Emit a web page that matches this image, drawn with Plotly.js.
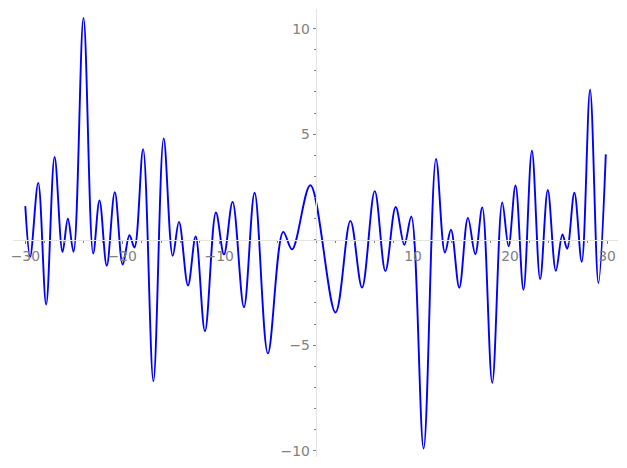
<!DOCTYPE html>
<html>
<head>
<meta charset="utf-8">
<script src="https://cdn.plot.ly/plotly-3.0.1.min.js"></script>
<style>html,body{margin:0;padding:0;background:#fff;}#plot{width:627px;height:468px;}</style>
</head>
<body>
<div id="plot"></div>
<script>
// Curve samples (extrema and end points)
const xVals = [-30.0, -29.5, -28.67, -27.85, -26.98, -26.16, -25.61, -25.03, -24.0, -23.0,
  -22.35, -21.6, -20.77, -19.95, -19.26, -18.74, -17.85, -16.79, -15.73, -14.80,
  -14.15, -13.22, -12.43, -11.47, -10.34, -9.51, -8.62, -7.45, -6.35, -4.98,
  -3.40, -2.49, -0.60, 1.99, 3.53, 4.73, 6.04, 7.14, 8.20, 9.09,
  9.81, 11.08, 12.36, 13.28, 13.90, 14.76, 15.65, 16.41, 17.13, 18.16,
  19.19, 19.84, 20.56, 21.38, 22.25, 23.10, 23.89, 24.72, 25.40, 25.88,
  26.63, 27.39, 28.25, 29.11, 29.87];
const yVals = [1.59, -0.81, 2.69, -3.07, 3.92, -0.58, 0.99, -0.58, 10.51, -0.66,
  1.86, -1.24, 2.25, -1.18, 0.21, -0.37, 4.29, -6.71, 4.80, -0.77,
  0.84, -2.17, 0.15, -4.34, 1.29, -0.70, 1.79, -3.20, 2.22, -5.39,
  0.37, -0.46, 2.58, -3.45, 0.89, -2.27, 2.30, -1.49, 1.55, -0.24,
  1.10, -9.90, 3.83, -0.61, 0.47, -2.28, 1.03, -0.69, 1.53, -6.79,
  1.76, -0.31, 2.57, -2.38, 4.21, -1.87, 2.35, -1.48, 0.25, -0.43,
  2.22, -1.05, 7.10, -2.06, 4.04];
const xTicks = [-30, -20, -10, 10, 20, 30];
const yTicks = [-10, -5, 5, 10];

const xRange = [-31.27, 31.13];
const yRange = [-10.30, 10.93];
const grey = '#808080';
const spine = '#e3e3e3';
const tickFont = {family: 'DejaVu Sans', size: 13.9, color: grey};

const trace = {
  x: xVals, y: yVals, type: 'scatter', mode: 'lines',
  line: {color: '#0000ff', width: 1.9, shape: 'spline', smoothing: 1},
  hoverinfo: 'skip'
};

const layout = {
  width: 627, height: 468,
  margin: {l: 13, r: 9, t: 9, b: 11, pad: 0},
  paper_bgcolor: '#ffffff', plot_bgcolor: '#ffffff',
  showlegend: false,
  xaxis: {
    range: xRange, anchor: 'free',
    position: (0 - yRange[0]) / (yRange[1] - yRange[0]),
    showgrid: false, zeroline: false,
    showline: true, linecolor: spine, linewidth: 1.2,
    tickmode: 'array', tickvals: xTicks, ticktext: xTicks.map(v => v < 0 ? '\u2212' + Math.abs(v) : String(v)),
    ticks: 'outside', ticklen: 3.5, tickwidth: 1, tickcolor: grey,
    tickfont: tickFont,
    minor: {tickmode: 'linear', tick0: 0, dtick: 2, ticks: 'outside', ticklen: 2, tickwidth: 1, tickcolor: grey, showgrid: false}
  },
  yaxis: {
    range: yRange, anchor: 'free',
    position: (0 - xRange[0]) / (xRange[1] - xRange[0]),
    showgrid: false, zeroline: false,
    showline: true, linecolor: spine, linewidth: 1.2,
    tickmode: 'array', tickvals: yTicks, ticktext: yTicks.map(v => v < 0 ? '\u2212' + Math.abs(v) : String(v)),
    ticks: 'outside', ticklen: 3.5, tickwidth: 1, tickcolor: grey,
    tickfont: tickFont,
    minor: {tickmode: 'linear', tick0: 0, dtick: 1, ticks: 'outside', ticklen: 2, tickwidth: 1, tickcolor: grey, showgrid: false}
  }
};

Plotly.newPlot('plot', [trace], layout, {staticPlot: true, displayModeBar: false});
</script>
</body>
</html>
